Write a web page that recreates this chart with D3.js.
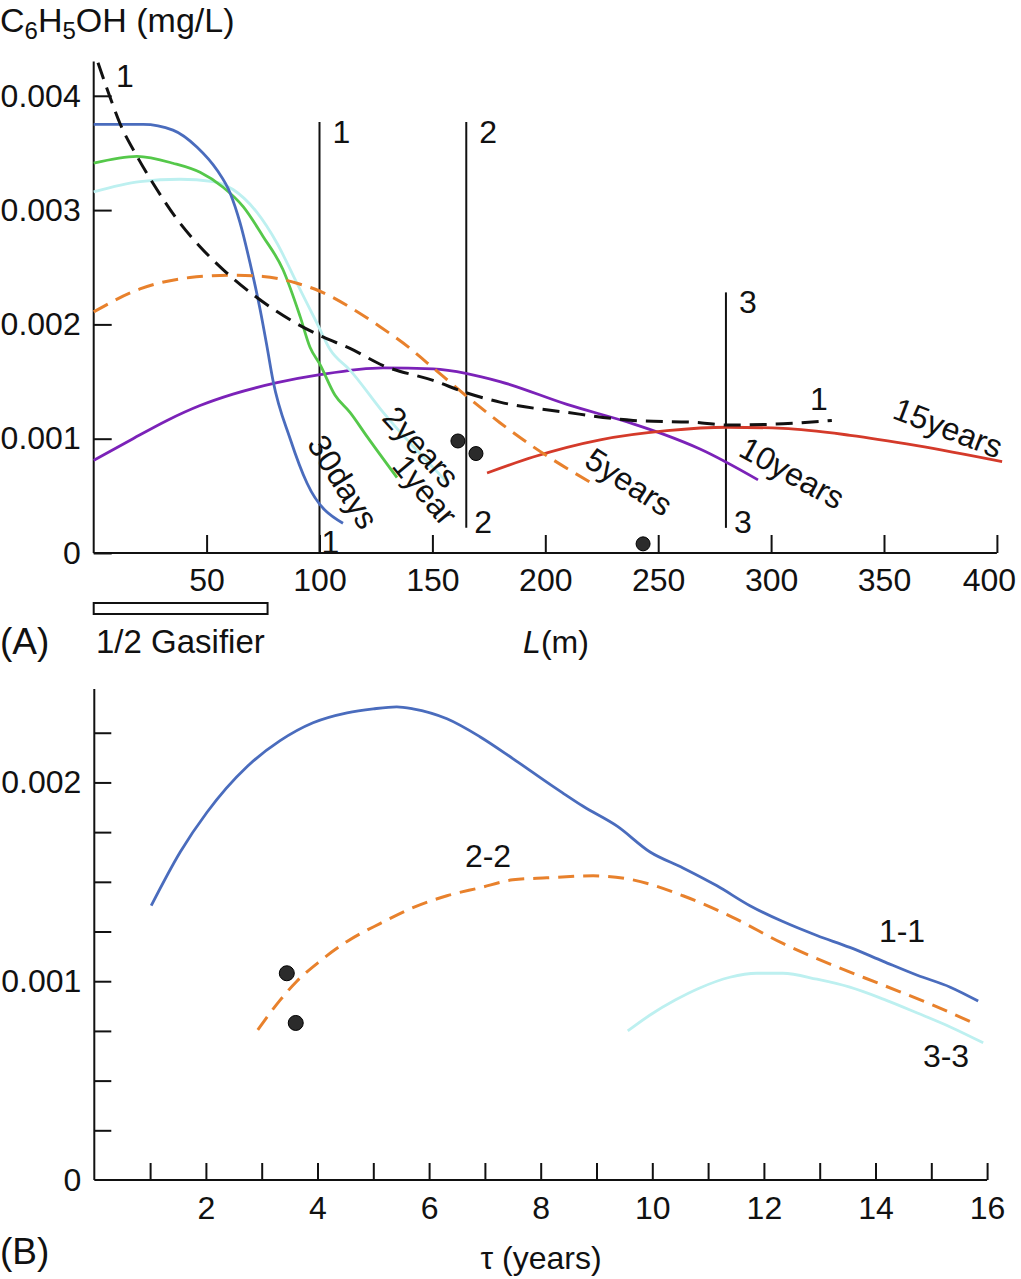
<!DOCTYPE html>
<html>
<head>
<meta charset="utf-8">
<script src="https://cdn.jsdelivr.net/npm/d3@7"></script>
<style>
  html, body { margin: 0; padding: 0; background: #fff; }
  svg text { font-family: "Liberation Sans", Arial, Helvetica, sans-serif; fill: #111; }
</style>
</head>
<body>
<svg id="chart" width="1021" height="1279"></svg>
<script>
// ---------------- Panel A data: C6H5OH (mg/L) vs L (m) ----------------
const curve1L = [1.9, 7.2, 11.6, 19.2, 28, 36.9, 47.1, 57.3, 70.6, 87, 101.5, 113.5, 128.2, 150.3, 165.3, 179.9, 209.6, 238.9, 268.5, 280.5, 305.3, 326.9];
const curve1C = [0.00429, 0.00399, 0.00376, 0.00347, 0.00318, 0.00292, 0.00268, 0.00248, 0.00226, 0.00204, 0.00189, 0.00179, 0.00164, 0.00151, 0.00140, 0.00132, 0.00123, 0.00116, 0.00114, 0.00112, 0.00113, 0.00116];

const days30L = [0, 21.9, 35.1, 45.8, 54.6, 60.4, 64.8, 69.2, 73.7, 76.8, 79.4, 87, 94.5, 110.4];
const days30C = [0.00375, 0.00375, 0.00370, 0.00355, 0.00335, 0.00315, 0.00289, 0.00254, 0.00213, 0.00180, 0.00151, 0.00100, 0.00061, 0.00026];

const year1L = [0, 19.2, 35.1, 47.1, 57.3, 66.2, 75, 83.8, 91.4, 95.8, 100.2, 106.9, 113.5, 121, 134.3];
const year1C = [0.00341, 0.00347, 0.00341, 0.00333, 0.00320, 0.00303, 0.00277, 0.00248, 0.00207, 0.00180, 0.00165, 0.00138, 0.00123, 0.00102, 0.00066];

const years2L = [0, 20.5, 38.2, 52.9, 61.7, 72.3, 81.2, 90, 98.9, 104.7, 113.5, 128.2, 156.5];
const years2C = [0.00316, 0.00325, 0.00327, 0.00325, 0.00318, 0.00298, 0.00271, 0.00236, 0.00201, 0.00178, 0.00160, 0.00123, 0.00062];

const years5L = [0, 20.5, 42.6, 60.4, 75, 90, 100.2, 113.5, 126.8, 140.1, 150.3, 165.3, 179.9, 194.6, 219.8];
const years5C = [0.00211, 0.00231, 0.00241, 0.00243, 0.00242, 0.00236, 0.00229, 0.00215, 0.00198, 0.00179, 0.00162, 0.00137, 0.00114, 0.00093, 0.00062];

const years10L = [0, 17.4, 32.5, 47.1, 61.7, 81.2, 100.2, 128.2, 150.3, 165.3, 179.9, 209.6, 238.9, 252.2, 268.5, 294.2];
const years10C = [0.00081, 0.00100, 0.00116, 0.00129, 0.00139, 0.00149, 0.00156, 0.00162, 0.00161, 0.00157, 0.00150, 0.00130, 0.00113, 0.00104, 0.00091, 0.00064];

const years15L = [174.2, 194.6, 224.3, 253.9, 280.5, 305.3, 335, 364.6, 402.3];
const years15C = [0.00070, 0.00084, 0.00099, 0.00107, 0.00110, 0.00109, 0.00103, 0.00094, 0.00080];

const obsAL = [161.3, 169.3, 243.3];
const obsAC = [0.00098, 0.00087, 0.00008];

const sectionL = [100, 165, 280];
const sectionTop = [0.00377, 0.00377, 0.00228];
const sectionBottom = [0, 0.00022, 0.00022];
const sectionNames = ["1", "2", "3"];

const gasifierHalfL = 77;

const xTicksA = [50, 100, 150, 200, 250, 300, 350, 400];
const yTicksA = [0, 0.001, 0.002, 0.003, 0.004];
const yLabelsA = ["0", "0.001", "0.002", "0.003", "0.004"];

// ---------------- Panel B data: C6H5OH (mg/L) vs tau (years) ----------------
const s11T = [1.02, 1.54, 2.02, 2.74, 3.33, 3.92, 4.53, 5.0, 5.42, 5.71, 6.32, 6.91, 7.5, 8.22, 8.38, 8.76, 9.37, 9.96, 10.55, 11.16, 11.75, 12.34, 12.95, 13.54, 14.14, 14.75, 15.34, 15.84];
const s11C = [0.00138, 0.00165, 0.00185, 0.00208, 0.00221, 0.00230, 0.00235, 0.00237, 0.00238, 0.00237, 0.00232, 0.00223, 0.00212, 0.00198, 0.00195, 0.00188, 0.00178, 0.00165, 0.00157, 0.00148, 0.00138, 0.00130, 0.00123, 0.00117, 0.00110, 0.00103, 0.00097, 0.00090];

const s22T = [2.93, 3.33, 3.63, 4.04, 4.53, 5.12, 5.71, 6.32, 6.91, 7.5, 8.11, 8.94, 9.65, 10.55, 11.45, 12.34, 13.24, 14.14, 15.03, 15.75];
const s22C = [0.000755, 0.000905, 0.00100, 0.00110, 0.00120, 0.00129, 0.00137, 0.00143, 0.00147, 0.00151, 0.00152, 0.00153, 0.00151, 0.00143, 0.00132, 0.00119, 0.00108, 0.00098, 0.00088, 0.00079];

const s33T = [9.56, 9.96, 10.41, 10.85, 11.39, 11.87, 12.34, 12.95, 13.54, 14.14, 14.75, 15.34, 15.93];
const s33C = [0.00075, 0.00083, 0.000905, 0.000966, 0.00102, 0.00104, 0.00104, 0.00101, 0.00097, 0.00091, 0.00084, 0.00077, 0.00069];

const obsBT = [3.45, 3.61];
const obsBC = [0.00104, 0.00079];

const xTicksB = d3.range(1, 17);
const xLabelB = [2, 4, 6, 8, 10, 12, 14, 16];
const yTicksB = d3.range(0.00025, 0.00230, 0.00025);
const yLabelsBVals = [0, 0.001, 0.002];
const yLabelsB = ["0", "0.001", "0.002"];

// ---------------- Drawing ----------------
const svg = d3.select("#chart");
const FS = 32;
const BLUE = "#4a6cbd", GREEN = "#55c84a", CYAN = "#bdf0f0", ORANGE = "#e8812c",
      PURPLE = "#7b22b8", RED = "#d43a2a", DOT = "#2b2b2b";
const FONT = '"Liberation Sans", Arial, sans-serif';
const LW = 2.8, DLW = 3;

// Scales A
const xA = d3.scaleLinear().domain([0, 400]).range([93.7, 996.9]);
const yA = d3.scaleLinear().domain([0, 0.0043]).range([553, 61.5]);

// Scales B
const xB = d3.scaleLinear().domain([0, 16]).range([94.3, 987.1]);
const yB = d3.scaleLinear().domain([0, 0.00247]).range([1180, 689]);

const zip = (a, b) => a.map((v, i) => [v, b[i]]);

// ---- Panel A axes
const gA = svg.append("g");
gA.append("line").attr("x1", xA(0)).attr("x2", xA(0)).attr("y1", yA(0.0043)).attr("y2", yA(0))
  .attr("stroke", "#111").attr("stroke-width", 2);
gA.append("line").attr("x1", xA(0)).attr("x2", xA(400)).attr("y1", yA(0)).attr("y2", yA(0))
  .attr("stroke", "#111").attr("stroke-width", 2);

const axAy = d3.axisLeft(yA).tickValues(yTicksA).tickSize(-18).tickPadding(13)
  .tickFormat((d, i) => yLabelsA[i]);
const gAy = gA.append("g").attr("transform", `translate(${xA(0)},0)`).call(axAy);
gAy.select(".domain").remove();
gAy.selectAll(".tick line").attr("stroke", "#111").attr("stroke-width", 2);
gAy.selectAll(".tick text").attr("font-size", FS).attr("fill", "#111").style("font-family", FONT);

const axAx = d3.axisBottom(xA).tickValues(xTicksA).tickSize(-18).tickPadding(15);
const gAx = gA.append("g").attr("transform", `translate(0,${yA(0)})`).call(axAx);
gAx.select(".domain").remove();
gAx.selectAll(".tick line").attr("stroke", "#111").attr("stroke-width", 2);
gAx.selectAll(".tick text").attr("font-size", FS).attr("fill", "#111").style("font-family", FONT)
  .attr("dx", d => d === 400 ? -8 : 0);

// Title
const title = svg.append("text").attr("x", 0).attr("y", 32).attr("font-size", 34);
title.append("tspan").text("C");
title.append("tspan").text("6").attr("font-size", 24).attr("dy", 7);
title.append("tspan").text("H").attr("dy", -7);
title.append("tspan").text("5").attr("font-size", 24).attr("dy", 7);
title.append("tspan").text("OH (mg/L)").attr("dy", -7);

// Section vertical lines
sectionL.forEach((L, i) => {
  gA.append("line").attr("x1", xA(L)).attr("x2", xA(L))
    .attr("y1", yA(sectionTop[i])).attr("y2", yA(sectionBottom[i]))
    .attr("stroke", "#111").attr("stroke-width", 2);
  gA.append("text").attr("x", xA(L) + 13).attr("y", yA(sectionTop[i]) + 21)
    .attr("font-size", FS).text(sectionNames[i]);
  gA.append("text").attr("x", xA(L) + (i === 0 ? 2 : 8)).attr("y", yA(sectionBottom[i]) + (i === 0 ? 0 : 5))
    .attr("font-size", FS).text(sectionNames[i]);
});

const lineA = d3.line().x(d => xA(d[0])).y(d => yA(d[1])).curve(d3.curveMonotoneX);

function pathA(L, C, color, dash) {
  const p = gA.append("path").datum(zip(L, C)).attr("d", lineA)
    .attr("fill", "none").attr("stroke", color).attr("stroke-width", dash ? DLW : LW);
  if (dash) p.attr("stroke-dasharray", dash);
}
pathA(years10L, years10C, PURPLE);
pathA(years15L, years15C, RED);
pathA(years2L, years2C, CYAN);
pathA(year1L, year1C, GREEN);
pathA(days30L, days30C, BLUE);
pathA(years5L, years5C, ORANGE, "16,9");
pathA(curve1L, curve1C, "#111", "17,9");

gA.selectAll("circle.obsA").data(zip(obsAL, obsAC)).enter().append("circle")
  .attr("cx", d => xA(d[0])).attr("cy", d => yA(d[1])).attr("r", 7)
  .attr("fill", DOT).attr("stroke", "#000").attr("stroke-width", 1);

function rotLabel(g, x, y, angle, txt) {
  g.append("text").attr("transform", `translate(${x},${y}) rotate(${angle})`)
    .attr("text-anchor", "middle").attr("dominant-baseline", "central")
    .attr("font-size", FS).text(txt);
}
rotLabel(gA, 343, 482, 58, "30days");
rotLabel(gA, 425, 490, 50, "1year");
rotLabel(gA, 421, 447, 48, "2years");
rotLabel(gA, 629, 482, 33, "5years");
rotLabel(gA, 792, 473, 29, "10years");
rotLabel(gA, 948, 428, 21, "15years");

gA.append("text").attr("x", 116).attr("y", 87).attr("font-size", FS).text("1");
gA.append("text").attr("x", 810).attr("y", 410).attr("font-size", FS).text("1");

// Gasifier bar
gA.append("rect").attr("x", xA(0)).attr("y", 603).attr("width", xA(gasifierHalfL) - xA(0)).attr("height", 11)
  .attr("fill", "#fff").attr("stroke", "#111").attr("stroke-width", 2);
gA.append("text").attr("x", 96).attr("y", 653).attr("font-size", 33).text("1/2 Gasifier");
gA.append("text").attr("x", 0).attr("y", 654).attr("font-size", 37).text("(A)");
const lm = gA.append("text").attr("x", 556).attr("y", 653).attr("font-size", FS).attr("text-anchor", "middle");
lm.append("tspan").attr("font-style", "italic").text("L");
lm.append("tspan").text("(m)");

// ---- Panel B
const gB = svg.append("g");
gB.append("line").attr("x1", xB(0)).attr("x2", xB(0)).attr("y1", yB(0.00247)).attr("y2", yB(0))
  .attr("stroke", "#111").attr("stroke-width", 2);
gB.append("line").attr("x1", xB(0)).attr("x2", xB(16)).attr("y1", yB(0)).attr("y2", yB(0))
  .attr("stroke", "#111").attr("stroke-width", 2);

const axBy = d3.axisLeft(yB).tickValues(yTicksB).tickSize(-17).tickFormat("");
const gBy = gB.append("g").attr("transform", `translate(${xB(0)},0)`).call(axBy);
gBy.select(".domain").remove();
gBy.selectAll(".tick line").attr("stroke", "#111").attr("stroke-width", 2);

const axByL = d3.axisLeft(yB).tickValues(yLabelsBVals).tickSize(0).tickPadding(13)
  .tickFormat((d, i) => yLabelsB[i]);
const gByL = gB.append("g").attr("transform", `translate(${xB(0)},0)`).call(axByL);
gByL.select(".domain").remove();
gByL.selectAll(".tick line").remove();
gByL.selectAll(".tick text").attr("font-size", FS).attr("fill", "#111").style("font-family", FONT);

const axBx = d3.axisBottom(xB).tickValues(xTicksB).tickSize(-17)
  .tickPadding(16).tickFormat(d => xLabelB.includes(d) ? String(d) : "");
const gBx = gB.append("g").attr("transform", `translate(0,${yB(0)})`).call(axBx);
gBx.select(".domain").remove();
gBx.selectAll(".tick line").attr("stroke", "#111").attr("stroke-width", 2);
gBx.selectAll(".tick text").attr("font-size", FS).attr("fill", "#111").style("font-family", FONT);

const lineB = d3.line().x(d => xB(d[0])).y(d => yB(d[1])).curve(d3.curveMonotoneX);
function pathB(T, C, color, dash) {
  const p = gB.append("path").datum(zip(T, C)).attr("d", lineB)
    .attr("fill", "none").attr("stroke", color).attr("stroke-width", dash ? DLW : LW);
  if (dash) p.attr("stroke-dasharray", dash);
}
pathB(s33T, s33C, CYAN);
pathB(s11T, s11C, BLUE);
pathB(s22T, s22C, ORANGE, "16,9");

gB.selectAll("circle.obsB").data(zip(obsBT, obsBC)).enter().append("circle")
  .attr("cx", d => xB(d[0])).attr("cy", d => yB(d[1])).attr("r", 7.5)
  .attr("fill", DOT).attr("stroke", "#000").attr("stroke-width", 1);

gB.append("text").attr("x", 488).attr("y", 867).attr("text-anchor", "middle").attr("font-size", FS).text("2-2");
gB.append("text").attr("x", 902).attr("y", 942).attr("text-anchor", "middle").attr("font-size", FS).text("1-1");
gB.append("text").attr("x", 946).attr("y", 1067).attr("text-anchor", "middle").attr("font-size", FS).text("3-3");

gB.append("text").attr("x", 0).attr("y", 1264).attr("font-size", 37).text("(B)");
gB.append("text").attr("x", 541).attr("y", 1269).attr("text-anchor", "middle").attr("font-size", FS).text("τ (years)");
</script>
</body>
</html>
